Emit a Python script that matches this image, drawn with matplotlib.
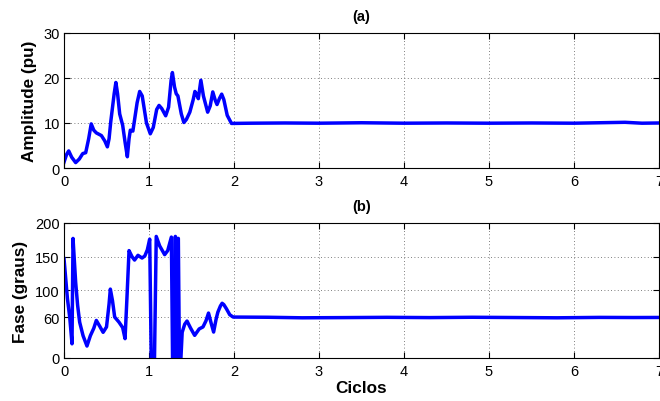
import matplotlib
matplotlib.use("Agg")
import matplotlib.pyplot as plt

plt.rcParams['font.family'] = ['Liberation Sans', 'DejaVu Sans']

# (a) amplitude, pu
amp_x = [0.0, 0.03, 0.055, 0.09, 0.137, 0.18, 0.22, 0.255, 0.29, 0.32, 0.35, 0.38,
         0.44, 0.48, 0.51, 0.53, 0.55, 0.59, 0.61, 0.63, 0.655, 0.69, 0.72, 0.745,
         0.765, 0.78, 0.81, 0.86, 0.89, 0.92, 0.97, 1.015, 1.05, 1.09, 1.118, 1.15,
         1.196, 1.23, 1.26, 1.275, 1.30, 1.32, 1.34, 1.38, 1.41, 1.44, 1.48, 1.52,
         1.54, 1.56, 1.58, 1.61, 1.64, 1.69, 1.72, 1.75, 1.78, 1.80, 1.83, 1.855,
         1.88, 1.92, 1.97, 2.2, 2.6, 3.0, 3.5, 4.0, 4.5, 5.0, 5.5, 6.0, 6.3, 6.6,
         6.8, 7.0]
amp_y = [1.3, 3.0, 3.8, 2.4, 1.2, 2.0, 3.2, 3.4, 6.5, 9.8, 8.4, 7.8,
         7.2, 6.0, 4.7, 6.5, 10.3, 16.5, 19.0, 16.5, 12.0, 9.5, 5.5, 2.5,
         6.5, 8.4, 8.2, 14.5, 17.0, 16.0, 10.0, 7.6, 9.0, 13.0, 13.9, 13.2,
         11.6, 13.5, 19.5, 21.2, 18.0, 16.5, 16.0, 12.0, 10.1, 10.8, 12.4, 15.2,
         17.0, 16.4, 15.4, 19.5, 16.0, 12.4, 13.8, 16.9, 15.0, 14.1, 15.5, 16.4,
         15.2, 11.7, 9.9, 9.95, 10.0, 9.95, 10.05, 9.95, 10.0, 9.95, 10.0, 9.95,
         10.05, 10.15, 9.95, 10.0]

# (b) phase, degrees
fase_x = [0.0, 0.04, 0.067, 0.094, 0.106, 0.137, 0.16, 0.184, 0.224, 0.27, 0.31,
          0.35, 0.38, 0.42, 0.46, 0.50, 0.53, 0.545, 0.57, 0.596, 0.647, 0.69,
          0.718, 0.74, 0.765, 0.80, 0.83, 0.87, 0.918, 0.95, 0.98, 1.008, 1.03,
          1.06, 1.085, 1.125, 1.184, 1.22, 1.263, 1.28, 1.30, 1.31, 1.325, 1.34,
          1.345, 1.36, 1.39, 1.42, 1.447, 1.49, 1.537, 1.59, 1.635, 1.67, 1.70,
          1.73, 1.76, 1.79, 1.81, 1.84, 1.86, 1.88, 1.91, 1.95, 1.99, 2.4, 2.8,
          3.3, 3.8, 4.3, 4.8, 5.3, 5.8, 6.3, 6.7, 7.0]
fase_y = [147, 88, 60.6, 21, 177, 112, 78, 53, 33, 17.7, 33,
          44, 55.6, 47, 38, 46, 80, 102, 85, 60.6, 53, 45,
          28.6, 88, 159, 150, 145, 152, 148, 151, 160, 176, -40,
          -40, 180, 166, 153, 159, 179, -40, -40, 180, -40, 177,
          177, -40, 38, 50, 54.7, 44, 33.5, 43, 46, 55, 66.5,
          52, 38.4, 58, 67.9, 77, 81, 79, 73, 64, 60.6, 60.3, 59.5,
          59.8, 60.2, 59.8, 60.3, 59.9, 59.5, 60.1, 59.9, 60.0]

x_ticks = [0, 1, 2, 3, 4, 5, 6, 7]
amp_ticks = [0, 10, 20, 30]
fase_ticks = [0, 60, 100, 150, 200]

fig = plt.figure(figsize=(6.6, 4.02), dpi=100)
ax1 = fig.add_axes([0.097, 0.5796, 0.9015, 0.336])
ax2 = fig.add_axes([0.097, 0.107, 0.9015, 0.336])


def style_axes(ax, yticks, ylim):
    ax.set_xlim(0, 7)
    ax.set_ylim(*ylim)
    ax.set_xticks(x_ticks)
    ax.set_yticks(yticks)
    ax.tick_params(direction='in', top=True, right=True, length=4, width=0.8,
                   labelsize=10.5)
    ax.tick_params(axis='x', pad=4.5)
    ax.tick_params(axis='y', pad=3)
    ax.grid(True, color='#555555', linestyle=(0, (1, 3)), linewidth=0.6)
    for s in ax.spines.values():
        s.set_linewidth(0.8)


ax1.plot(amp_x, amp_y, color='#0000ff', linewidth=2.5)
style_axes(ax1, amp_ticks, (0, 30))
ax1.set_ylabel('Amplitude (pu)', fontsize=12.3, fontweight='bold', labelpad=5)
ax1.set_title('(a)', fontsize=10.5, fontweight='bold', pad=9)

ax2.plot(fase_x, fase_y, color='#0000ff', linewidth=2.5)
style_axes(ax2, fase_ticks, (0, 200))
ax2.set_ylabel('Fase (graus)', fontsize=12.3, fontweight='bold', labelpad=5)
ax2.set_title('(b)', fontsize=10.5, fontweight='bold', pad=9)
ax2.set_xlabel('Ciclos', fontsize=12.3, fontweight='bold', labelpad=1)

fig.savefig('out.png', dpi=100)
